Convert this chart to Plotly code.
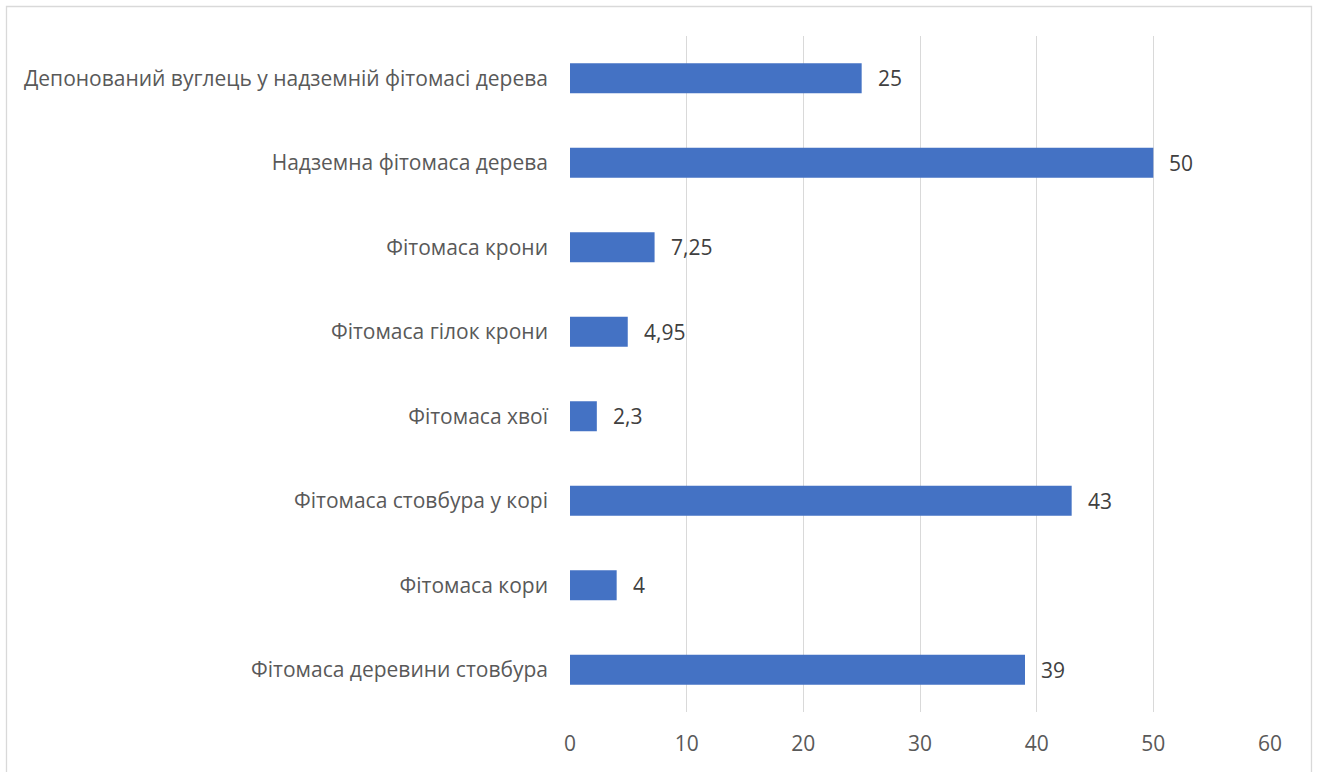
import plotly.graph_objects as go

# Aboveground phytomass components of a tree and deposited carbon
categories = [
    "Фітомаса деревини стовбура",
    "Фітомаса кори",
    "Фітомаса стовбура у корі",
    "Фітомаса хвої",
    "Фітомаса гілок крони",
    "Фітомаса крони",
    "Надземна фітомаса дерева",
    "Депонований вуглець у надземній фітомасі дерева",
]
values = [39, 4, 43, 2.3, 4.95, 7.25, 50, 25]
x_ticks = [0, 10, 20, 30, 40, 50, 60]

W, H = 1319, 772
L, R, T, B = 570, 49, 36, 60
FONT = "Open Sans"
FS = 21
TEXT_COLOR = "#595959"
BAR_COLOR = "#4472C4"


def fmt(v):
    s = f"{v:g}"
    return s.replace(".", ",")


fig = go.Figure(
    go.Bar(
        x=values,
        y=categories,
        orientation="h",
        marker=dict(color=BAR_COLOR, line=dict(width=0)),
        hoverinfo="skip",
    )
)

# value labels to the right of each bar
for c, v in zip(categories, values):
    fig.add_annotation(
        x=v, y=c, xref="x", yref="y",
        text=fmt(v), showarrow=False,
        xanchor="left", yanchor="middle", xshift=14,
        font=dict(family=FONT, size=FS, color="#404040"),
    )

pw, ph = W - L - R, H - T - B
# chart frame
fig.add_shape(
    type="rect", xref="paper", yref="paper",
    x0=(6.5 - L) / pw, x1=(1311.5 - L) / pw,
    y0=-(H + 10 - T - ph) / ph, y1=1 + (T - 6.5) / ph,
    line=dict(color="#D9D9D9", width=1.3), fillcolor="rgba(0,0,0,0)",
    layer="below",
)

fig.update_layout(
    width=W, height=H,
    margin=dict(l=L, r=R, t=T, b=B),
    paper_bgcolor="white", plot_bgcolor="white",
    bargap=0.645,
    showlegend=False,
    font=dict(family=FONT, size=FS, color=TEXT_COLOR),
    xaxis=dict(
        range=[0, 60], tickvals=x_ticks, ticktext=[str(t) for t in x_ticks],
        showgrid=True, gridcolor="#D9D9D9", gridwidth=1.3,
        zeroline=False, showline=False, ticks="",
        tickfont=dict(family=FONT, size=FS, color=TEXT_COLOR),
        ticklabelstandoff=17,
        fixedrange=True,
    ),
    yaxis=dict(
        categoryorder="array", categoryarray=categories,
        showgrid=False, zeroline=False, showline=False, ticks="",
        tickfont=dict(family=FONT, size=FS, color=TEXT_COLOR),
        ticklabelstandoff=21,
        fixedrange=True,
    ),
)

fig.write_html("out.html")
